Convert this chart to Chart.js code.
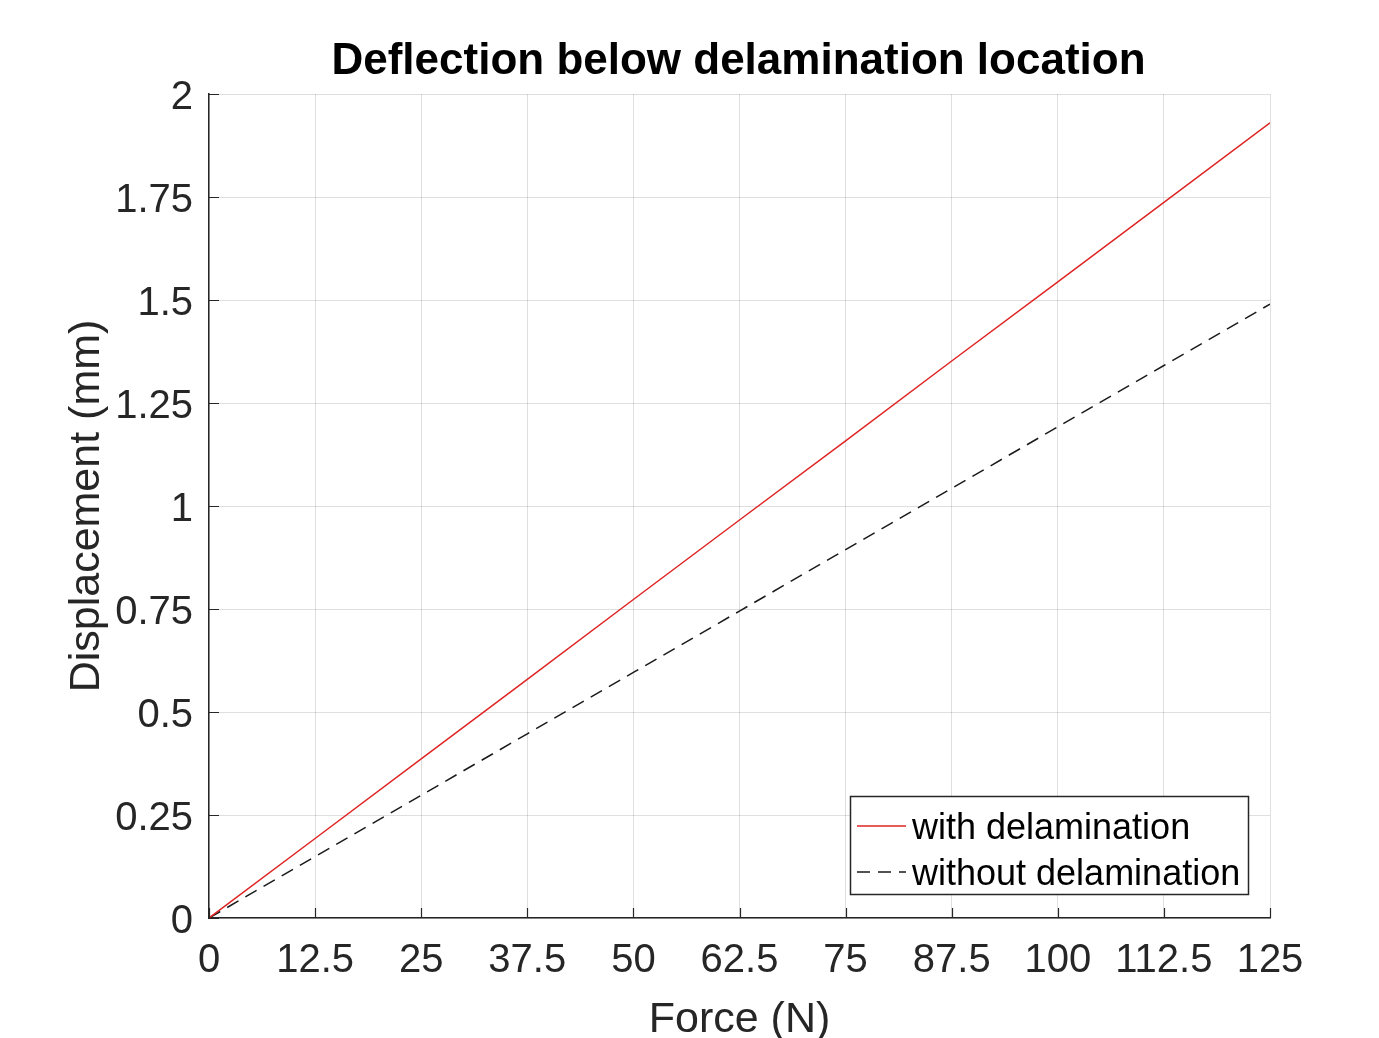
<!DOCTYPE html>
<html>
<head>
<meta charset="utf-8">
<script src="https://cdn.jsdelivr.net/npm/chart.js@4/dist/chart.umd.min.js"></script>
<style>
  html, body { margin: 0; padding: 0; background: #fff; }
  #wrap { width: 1379px; height: 1038px; }
</style>
</head>
<body>
<div id="wrap"><canvas id="chart"></canvas></div>
<script>
// Force (N) sample points
const forceN = [0, 12.5, 25, 37.5, 50, 62.5, 75, 87.5, 100, 112.5, 125];
// Displacement (mm)
const withDelam = [0, 0.193, 0.386, 0.579, 0.773, 0.966, 1.158, 1.352, 1.544, 1.737, 1.93];
const withoutDelam = [0, 0.149, 0.298, 0.447, 0.596, 0.745, 0.894, 1.043, 1.192, 1.341, 1.49];

const xTicks = [0, 12.5, 25, 37.5, 50, 62.5, 75, 87.5, 100, 112.5, 125];
const yTicks = [0, 0.25, 0.5, 0.75, 1, 1.25, 1.5, 1.75, 2];

const FONT = "'Liberation Sans', Arial, Helvetica, sans-serif";
const AXIS_COLOR = '#262626';

// title, inward ticks and in-plot legend, matlab style
const matlabDecor = {
  id: 'matlabDecor',
  afterDraw(chart) {
    const ctx = chart.ctx;
    const { left, right, top, bottom } = chart.chartArea;
    const xs = chart.scales.x, ys = chart.scales.y;
    ctx.save();

    // inward tick marks on left and bottom axes
    ctx.strokeStyle = AXIS_COLOR;
    ctx.lineWidth = 1.2;
    ctx.beginPath();
    xTicks.forEach(v => {
      const px = Math.round(xs.getPixelForValue(v)) + 0.5;
      ctx.moveTo(px, bottom);
      ctx.lineTo(px, bottom - 10);
    });
    yTicks.forEach(v => {
      const py = Math.round(ys.getPixelForValue(v)) + 0.5;
      ctx.moveTo(left, py);
      ctx.lineTo(left + 10, py);
    });
    ctx.stroke();

    // title
    ctx.fillStyle = '#000';
    ctx.font = `bold 44px ${FONT}`;
    ctx.textAlign = 'center';
    ctx.textBaseline = 'middle';
    ctx.fillText('Deflection below delamination location', (left + right) / 2 - 1, 62);

    // legend box
    const bx = 850, by = 796, bw = 398, bh = 98;
    ctx.fillStyle = '#fff';
    ctx.fillRect(bx, by, bw, bh);
    ctx.strokeStyle = AXIS_COLOR;
    ctx.lineWidth = 1.5;
    ctx.strokeRect(bx + 0.5, by + 0.5, bw, bh);

    ctx.font = `36px ${FONT}`;
    ctx.textAlign = 'left';
    ctx.fillStyle = '#000';
    chart.data.datasets.forEach((ds, i) => {
      const rowY = by + 30 + i * 46;
      ctx.strokeStyle = ds.borderColor;
      ctx.lineWidth = ds.borderWidth;
      ctx.setLineDash(ds.borderDash || []);
      ctx.beginPath();
      ctx.moveTo(bx + 7, rowY);
      ctx.lineTo(bx + 56, rowY);
      ctx.stroke();
      ctx.setLineDash([]);
      ctx.fillText(ds.label, bx + 62, rowY + 3);
    });
    ctx.restore();
  }
};

new Chart(document.getElementById('chart'), {
  type: 'line',
  data: {
    datasets: [
      {
        label: 'with delamination',
        data: forceN.map((f, i) => ({ x: f, y: withDelam[i] })),
        borderColor: '#e02424',
        borderWidth: 1.5,
        pointRadius: 0,
        fill: false,
        tension: 0
      },
      {
        label: 'without delamination',
        data: forceN.map((f, i) => ({ x: f, y: withoutDelam[i] })),
        borderColor: '#1a1a1a',
        borderWidth: 1.5,
        borderDash: [13, 8],
        pointRadius: 0,
        fill: false,
        tension: 0
      }
    ]
  },
  options: {
    responsive: true,
    maintainAspectRatio: false,
    animation: false,
    devicePixelRatio: 1,
    layout: { padding: { left: 0, right: 109, top: 94, bottom: 0 } },
    plugins: {
      legend: { display: false },
      title: { display: false },
      tooltip: { enabled: false }
    },
    scales: {
      x: {
        type: 'linear',
        min: 0,
        max: 125,
        afterBuildTicks: (s) => { s.ticks = xTicks.map(v => ({ value: v })); },
        afterFit: (s) => { s.height = 120; },
        ticks: {
          color: AXIS_COLOR,
          font: { family: FONT, size: 40 },
          padding: 19,
          maxRotation: 0,
          autoSkip: false,
          callback: (v) => String(v)
        },
        grid: { color: 'rgba(38,38,38,0.15)', lineWidth: 1, drawTicks: false },
        border: { color: AXIS_COLOR, width: 1.5 },
        title: {
          display: true,
          text: 'Force (N)',
          color: AXIS_COLOR,
          font: { family: FONT, size: 43, lineHeight: 0.85 },
          padding: { top: 0, bottom: 0 }
        }
      },
      y: {
        type: 'linear',
        min: 0,
        max: 2,
        afterBuildTicks: (s) => { s.ticks = yTicks.map(v => ({ value: v })); },
        afterFit: (s) => { s.width = 209; },
        ticks: {
          color: AXIS_COLOR,
          font: { family: FONT, size: 40 },
          padding: 16,
          labelOffset: 4,
          autoSkip: false,
          callback: (v) => String(v)
        },
        grid: { color: 'rgba(38,38,38,0.15)', lineWidth: 1, drawTicks: false },
        border: { color: AXIS_COLOR, width: 1.5 },
        title: {
          display: true,
          text: 'Displacement (mm)',
          color: AXIS_COLOR,
          font: { family: FONT, size: 43, lineHeight: 1 },
          padding: { top: 66, bottom: 0 }
        }
      }
    }
  },
  plugins: [matlabDecor]
});
</script>
</body>
</html>
